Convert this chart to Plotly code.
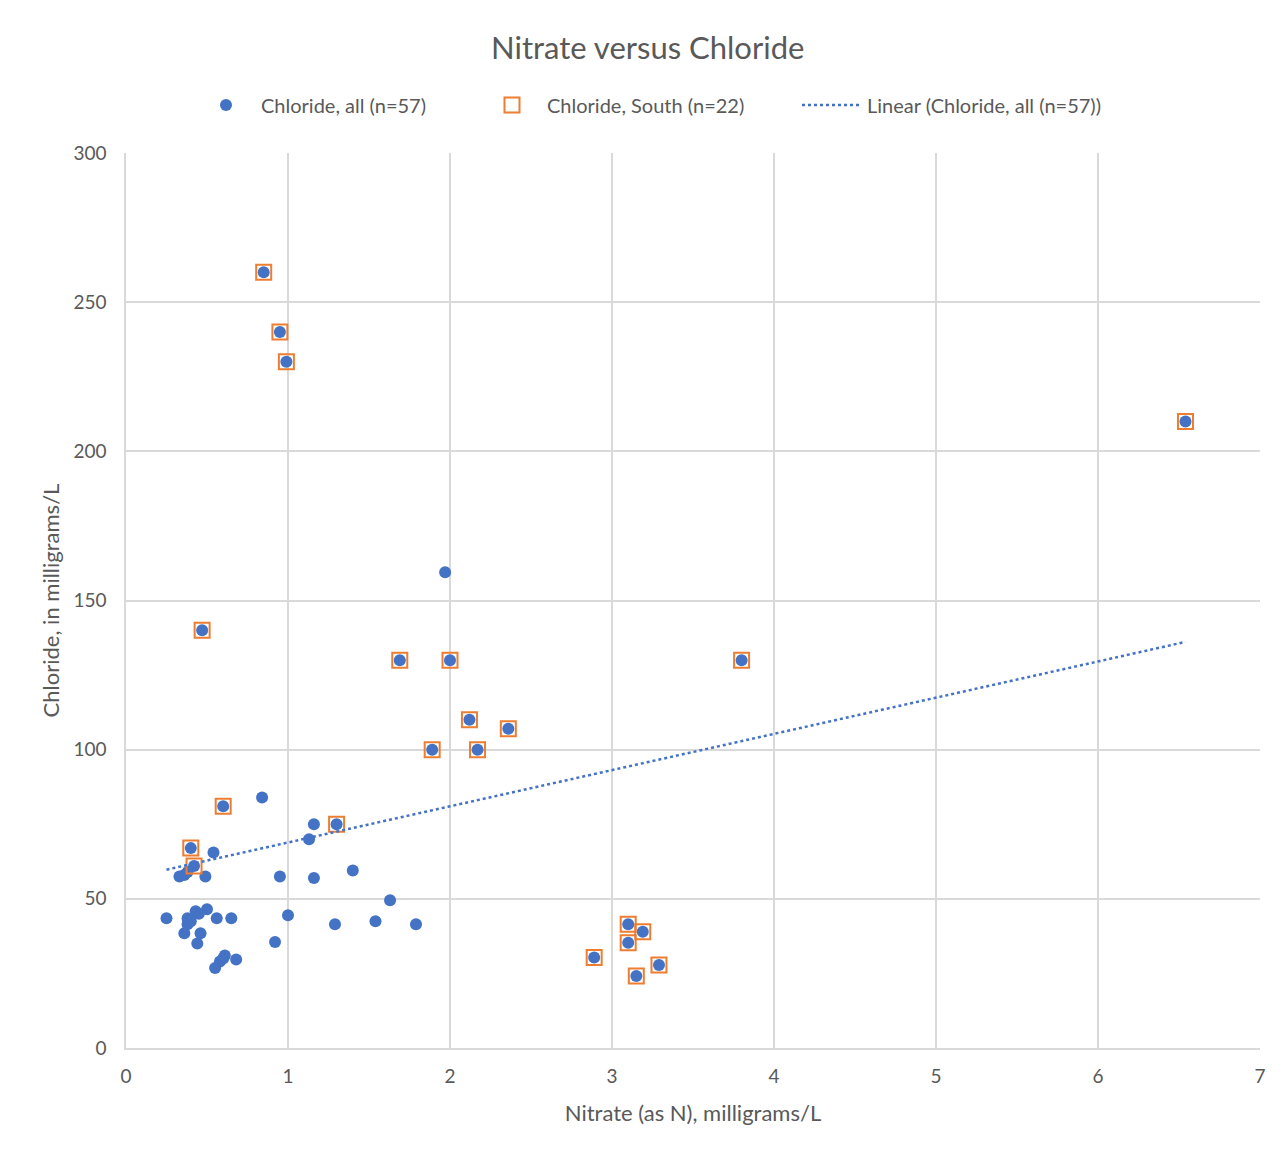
import numpy as np
import plotly.graph_objects as go

# Chloride, all (n=57)
all_x = [0.85, 0.95, 0.99, 0.47, 3.80, 6.54, 1.69, 2.00, 2.12, 2.36, 1.89, 2.17,
         0.60, 1.30, 0.40, 0.42, 3.10, 3.19, 3.10, 2.89, 3.29, 3.15,
         1.97, 0.84, 1.16, 1.13, 0.54, 0.33, 0.38, 0.49, 0.95, 1.16, 1.40, 1.63,
         0.25, 0.38, 0.38, 0.43, 0.50, 0.56, 0.65, 1.00, 1.29, 1.54, 1.79,
         0.36, 0.46, 0.44, 0.92, 0.61, 0.58, 0.68, 0.55,
         0.40, 0.45, 0.60, 0.36]
all_y = [260, 240, 230, 140, 130, 210, 130, 130, 110, 107, 100, 100,
         81, 75, 67, 61, 41.5, 39, 35.3, 30.3, 27.8, 24.1,
         159.5, 84, 75, 70, 65.5, 57.5, 59, 57.5, 57.5, 57, 59.5, 49.5,
         43.5, 43.5, 41.5, 45.8, 46.5, 43.5, 43.5, 44.5, 41.5, 42.5, 41.5,
         38.5, 38.5, 35, 35.5, 31, 29, 29.7, 26.8,
         42.5, 45, 30, 58]

# Chloride, South (n=22)
south_x = [0.85, 0.95, 0.99, 0.47, 3.80, 6.54, 1.69, 2.00, 2.12, 2.36, 1.89, 2.17,
           0.60, 1.30, 0.40, 0.42, 3.10, 3.19, 3.10, 2.89, 3.29, 3.15]
south_y = [260, 240, 230, 140, 130, 210, 130, 130, 110, 107, 100, 100,
           81, 75, 67, 61, 41.5, 39, 35.3, 30.3, 27.8, 24.1]

x_ticks = [0, 1, 2, 3, 4, 5, 6, 7]
y_ticks = [0, 50, 100, 150, 200, 250, 300]

slope, intercept = np.polyfit(all_x, all_y, 1)
tx = [min(all_x), max(all_x)]
ty = [slope * v + intercept for v in tx]

FONT = "Lato, 'Open Sans', sans-serif"
GREY = "#595959"

fig = go.Figure()
fig.add_trace(go.Scatter(
    x=all_x, y=all_y, mode="markers", name="Chloride, all (n=57)", legend="legend",
    showlegend=True,
    marker=dict(symbol="circle", size=12, color="#4472C4"),
))
fig.add_trace(go.Scatter(
    x=south_x, y=south_y, mode="markers", name="Chloride, South (n=22)", legend="legend2",
    showlegend=True,
    marker=dict(symbol="square-open", size=15, color="#ED7D31", line=dict(width=2)),
))
fig.add_trace(go.Scatter(
    x=tx, y=ty, mode="lines", name="Linear (Chloride, all (n=57))", legend="legend3",
    showlegend=True,
    line=dict(color="#4472C4", width=2.5, dash="dot"),
))


def leg(px_left):
    return dict(orientation="h", x=(px_left - 126) / 1134, xanchor="left", y=1.0536,
                yanchor="middle", font=dict(size=20, color=GREY), itemwidth=60,
                bgcolor="rgba(0,0,0,0)", visible=True)


fig.update_layout(
    width=1282, height=1152,
    showlegend=True,
    margin=dict(l=118, r=30, t=145, b=112),
    paper_bgcolor="white", plot_bgcolor="white",
    font=dict(family=FONT, color=GREY, size=19),
    title=dict(text="Nitrate versus Chloride", x=0.499, xanchor="center", xref="container",
               y=1 - 40 / 1152, yanchor="middle",
               font=dict(size=31, color=GREY, family=FONT)),
    legend=leg(191),
    legend2=leg(477),
    legend3=leg(797),
    xaxis=dict(range=[0, 7], tickvals=x_ticks, showgrid=True, gridcolor="#D9D9D9",
               gridwidth=1.5, zeroline=False, showline=True, linecolor="#D9D9D9",
               linewidth=1.5, ticks="outside", ticklen=10, tickcolor="rgba(0,0,0,0)",
               tickfont=dict(size=19, color=GREY),
               title=dict(text="Nitrate (as N), milligrams/L", font=dict(size=22, color=GREY),
                          standoff=20)),
    yaxis=dict(range=[0, 300], tickvals=y_ticks, showgrid=True, gridcolor="#D9D9D9",
               gridwidth=1.5, zeroline=False, showline=True, linecolor="#D9D9D9",
               linewidth=1.5, ticks="outside", ticklen=14, tickcolor="rgba(0,0,0,0)",
               tickfont=dict(size=19, color=GREY),
               title=dict(text="Chloride, in milligrams/L", font=dict(size=22, color=GREY),
                          standoff=8)),
)

fig.write_html("out.html")
